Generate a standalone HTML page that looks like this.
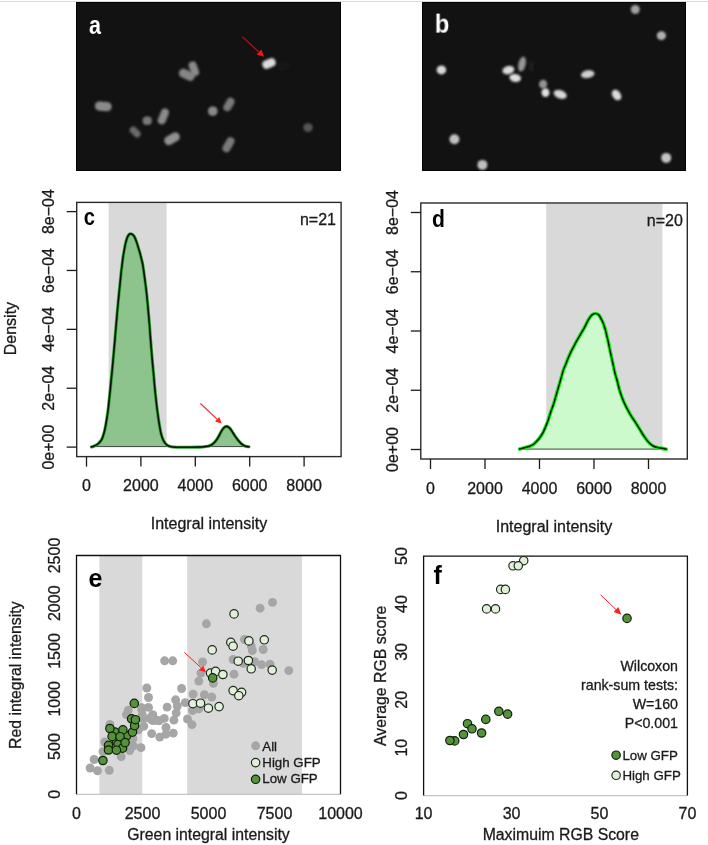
<!DOCTYPE html>
<html><head><meta charset="utf-8"><style>
html,body{margin:0;padding:0;background:#fff;width:708px;height:845px;overflow:hidden}
svg{display:block}
text{font-family:"Liberation Sans", sans-serif}
</style></head><body>
<svg width="708" height="845" viewBox="0 0 708 845" style="will-change:transform">
<defs><filter id="blur" x="-50%" y="-50%" width="200%" height="200%"><feGaussianBlur stdDeviation="0.9"/></filter></defs>
<rect x="0" y="1" width="708" height="1" fill="#dadada"/>
<rect x="76" y="2" width="265" height="169" fill="#121212"/>
<rect x="76.5" y="2.5" width="264" height="168" fill="none" stroke="#030303" stroke-width="1"/>
<rect x="94.90" y="101.70" width="16.80" height="9.20" rx="4.37" transform="rotate(5 103.3 106.3)" fill="#8a8a8a" filter="url(#blur)"/>
<rect x="142.60" y="116.40" width="9.20" height="8.60" rx="4.08" transform="rotate(0 147.2 120.7)" fill="#787878" filter="url(#blur)"/>
<rect x="155.10" y="112.40" width="16.40" height="8.00" rx="3.80" transform="rotate(-68 163.3 116.4)" fill="#8a8a8a" filter="url(#blur)"/>
<rect x="129.00" y="128.40" width="12.40" height="7.20" rx="3.42" transform="rotate(45 135.2 132.0)" fill="#6a6a6a" filter="url(#blur)"/>
<rect x="163.80" y="134.20" width="16.40" height="9.00" rx="4.27" transform="rotate(-30 172.0 138.7)" fill="#909090" filter="url(#blur)"/>
<rect x="208.00" y="106.50" width="9.60" height="9.20" rx="4.37" transform="rotate(0 212.8 111.1)" fill="#8a8a8a" filter="url(#blur)"/>
<rect x="221.70" y="100.40" width="14.40" height="8.00" rx="3.80" transform="rotate(-60 228.9 104.4)" fill="#7a7a7a" filter="url(#blur)"/>
<rect x="220.40" y="140.70" width="16.00" height="8.00" rx="3.80" transform="rotate(-60 228.4 144.7)" fill="#7a7a7a" filter="url(#blur)"/>
<rect x="178.60" y="70.30" width="16.40" height="9.00" rx="4.27" transform="rotate(25 186.8 74.8)" fill="#858585" filter="url(#blur)"/>
<rect x="186.30" y="64.80" width="15.00" height="8.00" rx="3.80" transform="rotate(70 193.8 68.8)" fill="#8a8a8a" filter="url(#blur)"/>
<rect x="303.50" y="123.30" width="9.00" height="8.60" rx="4.08" transform="rotate(0 308.0 127.6)" fill="#555555" filter="url(#blur)"/>
<rect x="278.00" y="61.40" width="12.00" height="9.00" rx="4.27" transform="rotate(-20 284.0 65.9)" fill="#191919" filter="url(#blur)"/>
<rect x="262.20" y="59.20" width="13.60" height="8.60" rx="4.08" transform="rotate(-23 269.0 63.5)" fill="#dcdcdc" filter="url(#blur)"/>
<text x="0" y="0" font-size="25" text-anchor="start" font-weight="bold" fill="#ffffff" transform="translate(89.0 33.8) scale(0.86 1)">a</text>
<line x1="242.4" y1="36.7" x2="258.6" y2="51.8" stroke="#b51010" stroke-width="1.2"/>
<polygon points="263.9,56.7 256.6,54.4 261.4,49.5" fill="#ff1010"/>
<rect x="422" y="2" width="264" height="169" fill="#121212"/>
<rect x="422.5" y="2.5" width="263" height="168" fill="none" stroke="#030303" stroke-width="1"/>
<ellipse cx="635.3" cy="9.5" rx="4.5" ry="4.5" transform="rotate(0 635.3 9.5)" fill="#a0a0a0" filter="url(#blur)"/>
<ellipse cx="661.4" cy="35.6" rx="4.6" ry="4.4" transform="rotate(0 661.4 35.6)" fill="#b0b0b0" filter="url(#blur)"/>
<ellipse cx="441.4" cy="69.9" rx="4.8" ry="4.5" transform="rotate(0 441.4 69.9)" fill="#d8d8d8" filter="url(#blur)"/>
<ellipse cx="508.4" cy="70.2" rx="6.0" ry="4.1" transform="rotate(-15 508.4 70.2)" fill="#dadada" filter="url(#blur)"/>
<ellipse cx="515.2" cy="77.9" rx="5.8" ry="4.0" transform="rotate(10 515.2 77.9)" fill="#e0e0e0" filter="url(#blur)"/>
<ellipse cx="522.0" cy="64.1" rx="7.6" ry="3.6" transform="rotate(-77 522.0 64.1)" fill="#959595" filter="url(#blur)"/>
<ellipse cx="543.1" cy="84.2" rx="4.1" ry="4.4" transform="rotate(0 543.1 84.2)" fill="#929292" filter="url(#blur)"/>
<ellipse cx="545.5" cy="92.6" rx="4.0" ry="4.3" transform="rotate(0 545.5 92.6)" fill="#e0e0e0" filter="url(#blur)"/>
<ellipse cx="560.2" cy="94.4" rx="6.8" ry="4.2" transform="rotate(20 560.2 94.4)" fill="#d8d8d8" filter="url(#blur)"/>
<ellipse cx="587.7" cy="74.2" rx="6.8" ry="3.9" transform="rotate(-10 587.7 74.2)" fill="#cfcfcf" filter="url(#blur)"/>
<ellipse cx="616.6" cy="95.0" rx="5.8" ry="4.1" transform="rotate(55 616.6 95.0)" fill="#dadada" filter="url(#blur)"/>
<ellipse cx="454.4" cy="139.2" rx="5.0" ry="5.0" transform="rotate(0 454.4 139.2)" fill="#c0c0c0" filter="url(#blur)"/>
<ellipse cx="482.4" cy="164.9" rx="5.0" ry="5.0" transform="rotate(0 482.4 164.9)" fill="#c0c0c0" filter="url(#blur)"/>
<ellipse cx="666.2" cy="157.9" rx="5.0" ry="5.0" transform="rotate(0 666.2 157.9)" fill="#c4c4c4" filter="url(#blur)"/>
<ellipse cx="531.7" cy="66.5" rx="3" ry="6" transform="rotate(0 531.7 66.5)" fill="#1a1a1a" filter="url(#blur)"/>
<text x="0" y="0" font-size="25" text-anchor="start" font-weight="bold" fill="#ffffff" transform="translate(434.8 32.6) scale(0.95 1)">b</text>
<rect x="108.6" y="203.20000000000002" width="58.0" height="243.4" fill="#d9d9d9"/>
<path d="M91.40,446.90 C91.77,446.80 92.52,446.78 93.60,446.30 C94.68,445.82 96.72,444.88 97.90,444.00 C99.08,443.12 99.97,441.97 100.70,441.00 C101.43,440.03 101.73,439.60 102.30,438.20 C102.87,436.80 103.58,434.47 104.10,432.60 C104.62,430.73 105.02,428.88 105.40,427.00 C105.78,425.12 106.08,423.20 106.40,421.30 C106.72,419.40 107.02,417.48 107.30,415.60 C107.58,413.72 107.83,412.17 108.10,410.00 C108.37,407.83 108.57,405.72 108.90,402.60 C109.23,399.48 109.72,395.07 110.10,391.30 C110.48,387.53 110.87,383.38 111.20,380.00 C111.53,376.62 111.82,373.90 112.10,371.00 C112.38,368.10 112.60,365.88 112.90,362.60 C113.20,359.32 113.57,355.07 113.90,351.30 C114.23,347.53 114.58,343.72 114.90,340.00 C115.22,336.28 115.48,332.73 115.80,329.00 C116.12,325.27 116.47,321.38 116.80,317.60 C117.13,313.82 117.45,310.07 117.80,306.30 C118.15,302.53 118.53,298.72 118.90,295.00 C119.27,291.28 119.65,287.50 120.00,284.00 C120.35,280.50 120.68,276.95 121.00,274.00 C121.32,271.05 121.60,268.82 121.90,266.30 C122.20,263.78 122.50,261.08 122.80,258.90 C123.10,256.72 123.38,255.08 123.70,253.20 C124.02,251.32 124.33,249.47 124.70,247.60 C125.07,245.73 125.45,243.73 125.90,242.00 C126.35,240.27 126.88,238.43 127.40,237.20 C127.92,235.97 128.47,235.17 129.00,234.60 C129.53,234.03 130.05,233.83 130.60,233.80 C131.15,233.77 131.70,233.98 132.30,234.40 C132.90,234.82 133.52,235.12 134.20,236.30 C134.88,237.48 135.72,239.62 136.40,241.50 C137.08,243.38 137.70,245.65 138.30,247.60 C138.90,249.55 139.48,251.32 140.00,253.20 C140.52,255.08 140.93,256.93 141.40,258.90 C141.87,260.87 142.27,261.88 142.80,265.00 C143.33,268.12 144.03,273.43 144.60,277.60 C145.17,281.77 145.73,286.05 146.20,290.00 C146.67,293.95 147.03,297.53 147.40,301.30 C147.77,305.07 148.07,308.82 148.40,312.60 C148.73,316.38 149.10,320.27 149.40,324.00 C149.70,327.73 149.93,331.50 150.20,335.00 C150.47,338.50 150.73,341.67 151.00,345.00 C151.27,348.33 151.53,351.83 151.80,355.00 C152.07,358.17 152.33,361.17 152.60,364.00 C152.87,366.83 153.08,368.50 153.40,372.00 C153.72,375.50 154.15,381.17 154.50,385.00 C154.85,388.83 155.15,391.67 155.50,395.00 C155.85,398.33 156.27,402.17 156.60,405.00 C156.93,407.83 157.13,409.28 157.50,412.00 C157.87,414.72 158.25,417.87 158.80,421.30 C159.35,424.73 160.18,429.78 160.80,432.60 C161.42,435.42 162.00,436.77 162.50,438.20 C163.00,439.63 163.23,440.23 163.80,441.20 C164.37,442.17 165.08,443.20 165.90,444.00 C166.72,444.80 167.48,445.50 168.70,446.00 C169.92,446.50 170.48,446.80 173.20,447.00 C175.92,447.20 180.53,447.18 185.00,447.20 C189.47,447.22 196.67,447.20 200.00,447.10 C203.33,447.00 203.50,446.80 205.00,446.60 C206.50,446.40 207.78,446.28 209.00,445.90 C210.22,445.52 211.18,445.12 212.30,444.30 C213.42,443.48 214.65,442.28 215.70,441.00 C216.75,439.72 217.73,438.07 218.60,436.60 C219.47,435.13 220.10,433.60 220.90,432.20 C221.70,430.80 222.47,429.17 223.40,428.20 C224.33,427.23 225.48,426.43 226.50,426.40 C227.52,426.37 228.57,427.15 229.50,428.00 C230.43,428.85 231.20,430.18 232.10,431.50 C233.00,432.82 233.93,434.48 234.90,435.90 C235.87,437.32 236.85,438.72 237.90,440.00 C238.95,441.28 240.10,442.62 241.20,443.60 C242.30,444.58 243.22,445.37 244.50,445.90 C245.78,446.43 248.17,446.65 248.90,446.80 L248.90,446.6 L91.40,446.6 Z" fill="#8dc48d" stroke="none"/>
<line x1="91.40" y1="446.6" x2="248.90" y2="446.6" stroke="#303030" stroke-width="0.9"/>
<path d="M91.40,446.90 C91.77,446.80 92.52,446.78 93.60,446.30 C94.68,445.82 96.72,444.88 97.90,444.00 C99.08,443.12 99.97,441.97 100.70,441.00 C101.43,440.03 101.73,439.60 102.30,438.20 C102.87,436.80 103.58,434.47 104.10,432.60 C104.62,430.73 105.02,428.88 105.40,427.00 C105.78,425.12 106.08,423.20 106.40,421.30 C106.72,419.40 107.02,417.48 107.30,415.60 C107.58,413.72 107.83,412.17 108.10,410.00 C108.37,407.83 108.57,405.72 108.90,402.60 C109.23,399.48 109.72,395.07 110.10,391.30 C110.48,387.53 110.87,383.38 111.20,380.00 C111.53,376.62 111.82,373.90 112.10,371.00 C112.38,368.10 112.60,365.88 112.90,362.60 C113.20,359.32 113.57,355.07 113.90,351.30 C114.23,347.53 114.58,343.72 114.90,340.00 C115.22,336.28 115.48,332.73 115.80,329.00 C116.12,325.27 116.47,321.38 116.80,317.60 C117.13,313.82 117.45,310.07 117.80,306.30 C118.15,302.53 118.53,298.72 118.90,295.00 C119.27,291.28 119.65,287.50 120.00,284.00 C120.35,280.50 120.68,276.95 121.00,274.00 C121.32,271.05 121.60,268.82 121.90,266.30 C122.20,263.78 122.50,261.08 122.80,258.90 C123.10,256.72 123.38,255.08 123.70,253.20 C124.02,251.32 124.33,249.47 124.70,247.60 C125.07,245.73 125.45,243.73 125.90,242.00 C126.35,240.27 126.88,238.43 127.40,237.20 C127.92,235.97 128.47,235.17 129.00,234.60 C129.53,234.03 130.05,233.83 130.60,233.80 C131.15,233.77 131.70,233.98 132.30,234.40 C132.90,234.82 133.52,235.12 134.20,236.30 C134.88,237.48 135.72,239.62 136.40,241.50 C137.08,243.38 137.70,245.65 138.30,247.60 C138.90,249.55 139.48,251.32 140.00,253.20 C140.52,255.08 140.93,256.93 141.40,258.90 C141.87,260.87 142.27,261.88 142.80,265.00 C143.33,268.12 144.03,273.43 144.60,277.60 C145.17,281.77 145.73,286.05 146.20,290.00 C146.67,293.95 147.03,297.53 147.40,301.30 C147.77,305.07 148.07,308.82 148.40,312.60 C148.73,316.38 149.10,320.27 149.40,324.00 C149.70,327.73 149.93,331.50 150.20,335.00 C150.47,338.50 150.73,341.67 151.00,345.00 C151.27,348.33 151.53,351.83 151.80,355.00 C152.07,358.17 152.33,361.17 152.60,364.00 C152.87,366.83 153.08,368.50 153.40,372.00 C153.72,375.50 154.15,381.17 154.50,385.00 C154.85,388.83 155.15,391.67 155.50,395.00 C155.85,398.33 156.27,402.17 156.60,405.00 C156.93,407.83 157.13,409.28 157.50,412.00 C157.87,414.72 158.25,417.87 158.80,421.30 C159.35,424.73 160.18,429.78 160.80,432.60 C161.42,435.42 162.00,436.77 162.50,438.20 C163.00,439.63 163.23,440.23 163.80,441.20 C164.37,442.17 165.08,443.20 165.90,444.00 C166.72,444.80 167.48,445.50 168.70,446.00 C169.92,446.50 170.48,446.80 173.20,447.00 C175.92,447.20 180.53,447.18 185.00,447.20 C189.47,447.22 196.67,447.20 200.00,447.10 C203.33,447.00 203.50,446.80 205.00,446.60 C206.50,446.40 207.78,446.28 209.00,445.90 C210.22,445.52 211.18,445.12 212.30,444.30 C213.42,443.48 214.65,442.28 215.70,441.00 C216.75,439.72 217.73,438.07 218.60,436.60 C219.47,435.13 220.10,433.60 220.90,432.20 C221.70,430.80 222.47,429.17 223.40,428.20 C224.33,427.23 225.48,426.43 226.50,426.40 C227.52,426.37 228.57,427.15 229.50,428.00 C230.43,428.85 231.20,430.18 232.10,431.50 C233.00,432.82 233.93,434.48 234.90,435.90 C235.87,437.32 236.85,438.72 237.90,440.00 C238.95,441.28 240.10,442.62 241.20,443.60 C242.30,444.58 243.22,445.37 244.50,445.90 C245.78,446.43 248.17,446.65 248.90,446.80" fill="none" stroke="#2e9e2e" stroke-width="3.1" stroke-linejoin="round" stroke-linecap="round"/>
<path d="M91.40,446.90 C91.77,446.80 92.52,446.78 93.60,446.30 C94.68,445.82 96.72,444.88 97.90,444.00 C99.08,443.12 99.97,441.97 100.70,441.00 C101.43,440.03 101.73,439.60 102.30,438.20 C102.87,436.80 103.58,434.47 104.10,432.60 C104.62,430.73 105.02,428.88 105.40,427.00 C105.78,425.12 106.08,423.20 106.40,421.30 C106.72,419.40 107.02,417.48 107.30,415.60 C107.58,413.72 107.83,412.17 108.10,410.00 C108.37,407.83 108.57,405.72 108.90,402.60 C109.23,399.48 109.72,395.07 110.10,391.30 C110.48,387.53 110.87,383.38 111.20,380.00 C111.53,376.62 111.82,373.90 112.10,371.00 C112.38,368.10 112.60,365.88 112.90,362.60 C113.20,359.32 113.57,355.07 113.90,351.30 C114.23,347.53 114.58,343.72 114.90,340.00 C115.22,336.28 115.48,332.73 115.80,329.00 C116.12,325.27 116.47,321.38 116.80,317.60 C117.13,313.82 117.45,310.07 117.80,306.30 C118.15,302.53 118.53,298.72 118.90,295.00 C119.27,291.28 119.65,287.50 120.00,284.00 C120.35,280.50 120.68,276.95 121.00,274.00 C121.32,271.05 121.60,268.82 121.90,266.30 C122.20,263.78 122.50,261.08 122.80,258.90 C123.10,256.72 123.38,255.08 123.70,253.20 C124.02,251.32 124.33,249.47 124.70,247.60 C125.07,245.73 125.45,243.73 125.90,242.00 C126.35,240.27 126.88,238.43 127.40,237.20 C127.92,235.97 128.47,235.17 129.00,234.60 C129.53,234.03 130.05,233.83 130.60,233.80 C131.15,233.77 131.70,233.98 132.30,234.40 C132.90,234.82 133.52,235.12 134.20,236.30 C134.88,237.48 135.72,239.62 136.40,241.50 C137.08,243.38 137.70,245.65 138.30,247.60 C138.90,249.55 139.48,251.32 140.00,253.20 C140.52,255.08 140.93,256.93 141.40,258.90 C141.87,260.87 142.27,261.88 142.80,265.00 C143.33,268.12 144.03,273.43 144.60,277.60 C145.17,281.77 145.73,286.05 146.20,290.00 C146.67,293.95 147.03,297.53 147.40,301.30 C147.77,305.07 148.07,308.82 148.40,312.60 C148.73,316.38 149.10,320.27 149.40,324.00 C149.70,327.73 149.93,331.50 150.20,335.00 C150.47,338.50 150.73,341.67 151.00,345.00 C151.27,348.33 151.53,351.83 151.80,355.00 C152.07,358.17 152.33,361.17 152.60,364.00 C152.87,366.83 153.08,368.50 153.40,372.00 C153.72,375.50 154.15,381.17 154.50,385.00 C154.85,388.83 155.15,391.67 155.50,395.00 C155.85,398.33 156.27,402.17 156.60,405.00 C156.93,407.83 157.13,409.28 157.50,412.00 C157.87,414.72 158.25,417.87 158.80,421.30 C159.35,424.73 160.18,429.78 160.80,432.60 C161.42,435.42 162.00,436.77 162.50,438.20 C163.00,439.63 163.23,440.23 163.80,441.20 C164.37,442.17 165.08,443.20 165.90,444.00 C166.72,444.80 167.48,445.50 168.70,446.00 C169.92,446.50 170.48,446.80 173.20,447.00 C175.92,447.20 180.53,447.18 185.00,447.20 C189.47,447.22 196.67,447.20 200.00,447.10 C203.33,447.00 203.50,446.80 205.00,446.60 C206.50,446.40 207.78,446.28 209.00,445.90 C210.22,445.52 211.18,445.12 212.30,444.30 C213.42,443.48 214.65,442.28 215.70,441.00 C216.75,439.72 217.73,438.07 218.60,436.60 C219.47,435.13 220.10,433.60 220.90,432.20 C221.70,430.80 222.47,429.17 223.40,428.20 C224.33,427.23 225.48,426.43 226.50,426.40 C227.52,426.37 228.57,427.15 229.50,428.00 C230.43,428.85 231.20,430.18 232.10,431.50 C233.00,432.82 233.93,434.48 234.90,435.90 C235.87,437.32 236.85,438.72 237.90,440.00 C238.95,441.28 240.10,442.62 241.20,443.60 C242.30,444.58 243.22,445.37 244.50,445.90 C245.78,446.43 248.17,446.65 248.90,446.80" fill="none" stroke="#021202" stroke-width="1.55" stroke-linejoin="round" stroke-linecap="round"/>
<rect x="76.7" y="202.4" width="264.40000000000003" height="254.20000000000002" fill="none" stroke="#2a2a2a" stroke-width="1.4"/>
<line x1="66.7" y1="211.6" x2="76.7" y2="211.6" stroke="#1a1a1a" stroke-width="1.3"/>
<text x="54.2" y="211.6" font-size="16" text-anchor="middle" font-weight="normal" fill="#1a1a1a" transform="rotate(-90 54.2 211.6)" stroke="#1a1a1a" stroke-width="0.3">8e−04</text>
<line x1="66.7" y1="270.475" x2="76.7" y2="270.475" stroke="#1a1a1a" stroke-width="1.3"/>
<text x="54.2" y="270.475" font-size="16" text-anchor="middle" font-weight="normal" fill="#1a1a1a" transform="rotate(-90 54.2 270.475)" stroke="#1a1a1a" stroke-width="0.3">6e−04</text>
<line x1="66.7" y1="329.35" x2="76.7" y2="329.35" stroke="#1a1a1a" stroke-width="1.3"/>
<text x="54.2" y="329.35" font-size="16" text-anchor="middle" font-weight="normal" fill="#1a1a1a" transform="rotate(-90 54.2 329.35)" stroke="#1a1a1a" stroke-width="0.3">4e−04</text>
<line x1="66.7" y1="388.225" x2="76.7" y2="388.225" stroke="#1a1a1a" stroke-width="1.3"/>
<text x="54.2" y="388.225" font-size="16" text-anchor="middle" font-weight="normal" fill="#1a1a1a" transform="rotate(-90 54.2 388.225)" stroke="#1a1a1a" stroke-width="0.3">2e−04</text>
<line x1="66.7" y1="447.1" x2="76.7" y2="447.1" stroke="#1a1a1a" stroke-width="1.3"/>
<text x="54.2" y="447.1" font-size="16" text-anchor="middle" font-weight="normal" fill="#1a1a1a" transform="rotate(-90 54.2 447.1)" stroke="#1a1a1a" stroke-width="0.3">0e+00</text>
<line x1="86.5" y1="456.6" x2="86.5" y2="466.6" stroke="#1a1a1a" stroke-width="1.3"/>
<text x="86.5" y="491.2" font-size="16" text-anchor="middle" font-weight="normal" fill="#1a1a1a" stroke="#1a1a1a" stroke-width="0.3">0</text>
<line x1="140.9" y1="456.6" x2="140.9" y2="466.6" stroke="#1a1a1a" stroke-width="1.3"/>
<text x="140.9" y="491.2" font-size="16" text-anchor="middle" font-weight="normal" fill="#1a1a1a" stroke="#1a1a1a" stroke-width="0.3">2000</text>
<line x1="195.3" y1="456.6" x2="195.3" y2="466.6" stroke="#1a1a1a" stroke-width="1.3"/>
<text x="195.3" y="491.2" font-size="16" text-anchor="middle" font-weight="normal" fill="#1a1a1a" stroke="#1a1a1a" stroke-width="0.3">4000</text>
<line x1="249.7" y1="456.6" x2="249.7" y2="466.6" stroke="#1a1a1a" stroke-width="1.3"/>
<text x="249.7" y="491.2" font-size="16" text-anchor="middle" font-weight="normal" fill="#1a1a1a" stroke="#1a1a1a" stroke-width="0.3">6000</text>
<line x1="304.1" y1="456.6" x2="304.1" y2="466.6" stroke="#1a1a1a" stroke-width="1.3"/>
<text x="304.1" y="491.2" font-size="16" text-anchor="middle" font-weight="normal" fill="#1a1a1a" stroke="#1a1a1a" stroke-width="0.3">8000</text>
<text x="209.0" y="529.0" font-size="16" text-anchor="middle" font-weight="normal" fill="#1a1a1a" stroke="#1a1a1a" stroke-width="0.3">Integral intensity</text>
<text x="0" y="0" font-size="24" text-anchor="start" font-weight="bold" fill="#000" transform="translate(83.8 225.2) scale(0.84 1)">c</text>
<text x="336.0" y="225.4" font-size="16" text-anchor="end" font-weight="normal" fill="#1a1a1a" stroke="#1a1a1a" stroke-width="0.3">n=21</text>
<text x="15.6" y="328.6" font-size="16" text-anchor="middle" font-weight="normal" fill="#1a1a1a" transform="rotate(-90 15.6 328.6)" stroke="#1a1a1a" stroke-width="0.3">Density</text>
<line x1="200.4" y1="403.5" x2="217.54" y2="419.60" stroke="#ff2020" stroke-width="1.1"/>
<polygon points="221.7,423.5 215.06,421.52 219.30,417.00" fill="#ff2020"/>
<rect x="546.2" y="203.8" width="116.19999999999993" height="245.3" fill="#d9d9d9"/>
<path d="M519.60,449.00 C520.43,448.78 522.92,448.15 524.60,447.70 C526.28,447.25 528.15,446.92 529.70,446.30 C531.25,445.68 532.68,444.88 533.90,444.00 C535.12,443.12 536.08,441.97 537.00,441.00 C537.92,440.03 538.40,439.60 539.40,438.20 C540.40,436.80 541.98,434.47 543.00,432.60 C544.02,430.73 544.70,428.88 545.50,427.00 C546.30,425.12 547.12,423.20 547.80,421.30 C548.48,419.40 549.00,417.48 549.60,415.60 C550.20,413.72 550.73,411.93 551.40,410.00 C552.07,408.07 552.68,406.90 553.60,404.00 C554.52,401.10 555.80,396.38 556.90,392.60 C558.00,388.82 559.12,385.07 560.20,381.30 C561.28,377.53 562.45,372.88 563.40,370.00 C564.35,367.12 565.12,365.97 565.90,364.00 C566.68,362.03 567.32,360.10 568.10,358.20 C568.88,356.30 569.73,354.40 570.60,352.60 C571.47,350.80 572.42,349.12 573.30,347.40 C574.18,345.68 575.02,343.93 575.90,342.30 C576.78,340.67 577.72,339.12 578.60,337.60 C579.48,336.08 580.35,334.65 581.20,333.20 C582.05,331.75 582.85,330.47 583.70,328.90 C584.55,327.33 585.40,325.52 586.30,323.80 C587.20,322.08 588.15,320.08 589.10,318.60 C590.05,317.12 590.97,315.75 592.00,314.90 C593.03,314.05 594.18,313.50 595.30,313.50 C596.42,313.50 597.65,313.87 598.70,314.90 C599.75,315.93 600.75,318.05 601.60,319.70 C602.45,321.35 603.13,322.98 603.80,324.80 C604.47,326.62 605.07,328.63 605.60,330.60 C606.13,332.57 606.55,334.70 607.00,336.60 C607.45,338.50 607.77,339.55 608.30,342.00 C608.83,344.45 609.47,347.87 610.20,351.30 C610.93,354.73 611.87,358.82 612.70,362.60 C613.53,366.38 614.48,371.10 615.20,374.00 C615.92,376.90 616.22,377.12 617.00,380.00 C617.78,382.88 618.72,387.53 619.90,391.30 C621.08,395.07 622.42,398.82 624.10,402.60 C625.78,406.38 628.30,411.00 630.00,414.00 C631.70,417.00 632.98,418.55 634.30,420.60 C635.62,422.65 636.73,424.40 637.90,426.30 C639.07,428.20 640.12,430.12 641.30,432.00 C642.48,433.88 643.67,435.77 645.00,437.60 C646.33,439.43 647.93,441.60 649.30,443.00 C650.67,444.40 651.80,445.23 653.20,446.00 C654.60,446.77 655.53,447.08 657.70,447.60 C659.87,448.12 664.78,448.85 666.20,449.10 L666.20,449.1 L519.60,449.1 Z" fill="#ccfacc" stroke="none"/>
<line x1="519.60" y1="449.1" x2="666.20" y2="449.1" stroke="#303030" stroke-width="0.9"/>
<path d="M519.60,449.00 C520.43,448.78 522.92,448.15 524.60,447.70 C526.28,447.25 528.15,446.92 529.70,446.30 C531.25,445.68 532.68,444.88 533.90,444.00 C535.12,443.12 536.08,441.97 537.00,441.00 C537.92,440.03 538.40,439.60 539.40,438.20 C540.40,436.80 541.98,434.47 543.00,432.60 C544.02,430.73 544.70,428.88 545.50,427.00 C546.30,425.12 547.12,423.20 547.80,421.30 C548.48,419.40 549.00,417.48 549.60,415.60 C550.20,413.72 550.73,411.93 551.40,410.00 C552.07,408.07 552.68,406.90 553.60,404.00 C554.52,401.10 555.80,396.38 556.90,392.60 C558.00,388.82 559.12,385.07 560.20,381.30 C561.28,377.53 562.45,372.88 563.40,370.00 C564.35,367.12 565.12,365.97 565.90,364.00 C566.68,362.03 567.32,360.10 568.10,358.20 C568.88,356.30 569.73,354.40 570.60,352.60 C571.47,350.80 572.42,349.12 573.30,347.40 C574.18,345.68 575.02,343.93 575.90,342.30 C576.78,340.67 577.72,339.12 578.60,337.60 C579.48,336.08 580.35,334.65 581.20,333.20 C582.05,331.75 582.85,330.47 583.70,328.90 C584.55,327.33 585.40,325.52 586.30,323.80 C587.20,322.08 588.15,320.08 589.10,318.60 C590.05,317.12 590.97,315.75 592.00,314.90 C593.03,314.05 594.18,313.50 595.30,313.50 C596.42,313.50 597.65,313.87 598.70,314.90 C599.75,315.93 600.75,318.05 601.60,319.70 C602.45,321.35 603.13,322.98 603.80,324.80 C604.47,326.62 605.07,328.63 605.60,330.60 C606.13,332.57 606.55,334.70 607.00,336.60 C607.45,338.50 607.77,339.55 608.30,342.00 C608.83,344.45 609.47,347.87 610.20,351.30 C610.93,354.73 611.87,358.82 612.70,362.60 C613.53,366.38 614.48,371.10 615.20,374.00 C615.92,376.90 616.22,377.12 617.00,380.00 C617.78,382.88 618.72,387.53 619.90,391.30 C621.08,395.07 622.42,398.82 624.10,402.60 C625.78,406.38 628.30,411.00 630.00,414.00 C631.70,417.00 632.98,418.55 634.30,420.60 C635.62,422.65 636.73,424.40 637.90,426.30 C639.07,428.20 640.12,430.12 641.30,432.00 C642.48,433.88 643.67,435.77 645.00,437.60 C646.33,439.43 647.93,441.60 649.30,443.00 C650.67,444.40 651.80,445.23 653.20,446.00 C654.60,446.77 655.53,447.08 657.70,447.60 C659.87,448.12 664.78,448.85 666.20,449.10" fill="none" stroke="#18ee18" stroke-width="3.7" stroke-linejoin="round" stroke-linecap="round"/>
<path d="M519.60,449.00 C520.43,448.78 522.92,448.15 524.60,447.70 C526.28,447.25 528.15,446.92 529.70,446.30 C531.25,445.68 532.68,444.88 533.90,444.00 C535.12,443.12 536.08,441.97 537.00,441.00 C537.92,440.03 538.40,439.60 539.40,438.20 C540.40,436.80 541.98,434.47 543.00,432.60 C544.02,430.73 544.70,428.88 545.50,427.00 C546.30,425.12 547.12,423.20 547.80,421.30 C548.48,419.40 549.00,417.48 549.60,415.60 C550.20,413.72 550.73,411.93 551.40,410.00 C552.07,408.07 552.68,406.90 553.60,404.00 C554.52,401.10 555.80,396.38 556.90,392.60 C558.00,388.82 559.12,385.07 560.20,381.30 C561.28,377.53 562.45,372.88 563.40,370.00 C564.35,367.12 565.12,365.97 565.90,364.00 C566.68,362.03 567.32,360.10 568.10,358.20 C568.88,356.30 569.73,354.40 570.60,352.60 C571.47,350.80 572.42,349.12 573.30,347.40 C574.18,345.68 575.02,343.93 575.90,342.30 C576.78,340.67 577.72,339.12 578.60,337.60 C579.48,336.08 580.35,334.65 581.20,333.20 C582.05,331.75 582.85,330.47 583.70,328.90 C584.55,327.33 585.40,325.52 586.30,323.80 C587.20,322.08 588.15,320.08 589.10,318.60 C590.05,317.12 590.97,315.75 592.00,314.90 C593.03,314.05 594.18,313.50 595.30,313.50 C596.42,313.50 597.65,313.87 598.70,314.90 C599.75,315.93 600.75,318.05 601.60,319.70 C602.45,321.35 603.13,322.98 603.80,324.80 C604.47,326.62 605.07,328.63 605.60,330.60 C606.13,332.57 606.55,334.70 607.00,336.60 C607.45,338.50 607.77,339.55 608.30,342.00 C608.83,344.45 609.47,347.87 610.20,351.30 C610.93,354.73 611.87,358.82 612.70,362.60 C613.53,366.38 614.48,371.10 615.20,374.00 C615.92,376.90 616.22,377.12 617.00,380.00 C617.78,382.88 618.72,387.53 619.90,391.30 C621.08,395.07 622.42,398.82 624.10,402.60 C625.78,406.38 628.30,411.00 630.00,414.00 C631.70,417.00 632.98,418.55 634.30,420.60 C635.62,422.65 636.73,424.40 637.90,426.30 C639.07,428.20 640.12,430.12 641.30,432.00 C642.48,433.88 643.67,435.77 645.00,437.60 C646.33,439.43 647.93,441.60 649.30,443.00 C650.67,444.40 651.80,445.23 653.20,446.00 C654.60,446.77 655.53,447.08 657.70,447.60 C659.87,448.12 664.78,448.85 666.20,449.10" fill="none" stroke="#002200" stroke-width="1.5" stroke-linejoin="round" stroke-linecap="round"/>
<rect x="420.8" y="203.0" width="266.49999999999994" height="256.0" fill="none" stroke="#2a2a2a" stroke-width="1.4"/>
<line x1="410.8" y1="212.5" x2="420.8" y2="212.5" stroke="#1a1a1a" stroke-width="1.3"/>
<text x="398.2" y="212.5" font-size="16" text-anchor="middle" font-weight="normal" fill="#1a1a1a" transform="rotate(-90 398.2 212.5)" stroke="#1a1a1a" stroke-width="0.3">8e−04</text>
<line x1="410.8" y1="271.75" x2="420.8" y2="271.75" stroke="#1a1a1a" stroke-width="1.3"/>
<text x="398.2" y="271.75" font-size="16" text-anchor="middle" font-weight="normal" fill="#1a1a1a" transform="rotate(-90 398.2 271.75)" stroke="#1a1a1a" stroke-width="0.3">6e−04</text>
<line x1="410.8" y1="331.0" x2="420.8" y2="331.0" stroke="#1a1a1a" stroke-width="1.3"/>
<text x="398.2" y="331.0" font-size="16" text-anchor="middle" font-weight="normal" fill="#1a1a1a" transform="rotate(-90 398.2 331.0)" stroke="#1a1a1a" stroke-width="0.3">4e−04</text>
<line x1="410.8" y1="390.25" x2="420.8" y2="390.25" stroke="#1a1a1a" stroke-width="1.3"/>
<text x="398.2" y="390.25" font-size="16" text-anchor="middle" font-weight="normal" fill="#1a1a1a" transform="rotate(-90 398.2 390.25)" stroke="#1a1a1a" stroke-width="0.3">2e−04</text>
<line x1="410.8" y1="449.5" x2="420.8" y2="449.5" stroke="#1a1a1a" stroke-width="1.3"/>
<text x="398.2" y="449.5" font-size="16" text-anchor="middle" font-weight="normal" fill="#1a1a1a" transform="rotate(-90 398.2 449.5)" stroke="#1a1a1a" stroke-width="0.3">0e+00</text>
<line x1="430.5" y1="459.0" x2="430.5" y2="469.0" stroke="#1a1a1a" stroke-width="1.3"/>
<text x="430.5" y="493.7" font-size="16" text-anchor="middle" font-weight="normal" fill="#1a1a1a" stroke="#1a1a1a" stroke-width="0.3">0</text>
<line x1="485.0" y1="459.0" x2="485.0" y2="469.0" stroke="#1a1a1a" stroke-width="1.3"/>
<text x="485.0" y="493.7" font-size="16" text-anchor="middle" font-weight="normal" fill="#1a1a1a" stroke="#1a1a1a" stroke-width="0.3">2000</text>
<line x1="539.5" y1="459.0" x2="539.5" y2="469.0" stroke="#1a1a1a" stroke-width="1.3"/>
<text x="539.5" y="493.7" font-size="16" text-anchor="middle" font-weight="normal" fill="#1a1a1a" stroke="#1a1a1a" stroke-width="0.3">4000</text>
<line x1="594.0" y1="459.0" x2="594.0" y2="469.0" stroke="#1a1a1a" stroke-width="1.3"/>
<text x="594.0" y="493.7" font-size="16" text-anchor="middle" font-weight="normal" fill="#1a1a1a" stroke="#1a1a1a" stroke-width="0.3">6000</text>
<line x1="648.5" y1="459.0" x2="648.5" y2="469.0" stroke="#1a1a1a" stroke-width="1.3"/>
<text x="648.5" y="493.7" font-size="16" text-anchor="middle" font-weight="normal" fill="#1a1a1a" stroke="#1a1a1a" stroke-width="0.3">8000</text>
<text x="554.0" y="532.0" font-size="16" text-anchor="middle" font-weight="normal" fill="#1a1a1a" stroke="#1a1a1a" stroke-width="0.3">Integral intensity</text>
<text x="0" y="0" font-size="24" text-anchor="start" font-weight="bold" fill="#000" transform="translate(432.0 226.8) scale(0.88 1)">d</text>
<text x="682.8" y="226.3" font-size="16" text-anchor="end" font-weight="normal" fill="#1a1a1a" stroke="#1a1a1a" stroke-width="0.3">n=20</text>
<rect x="99.4" y="555.5" width="42.900000000000006" height="238.79999999999995" fill="#d9d9d9"/>
<rect x="187.2" y="555.5" width="114.69999999999999" height="238.79999999999995" fill="#d9d9d9"/>
<line x1="76.5" y1="794.3" x2="340.5" y2="794.3" stroke="#c4c4c4" stroke-width="1.2"/>
<polyline points="76.5,794.3 76.5,555.5 340.5,555.5 340.5,794.3" fill="none" stroke="#111" stroke-width="1.3"/>
<circle cx="94.1" cy="759.5" r="4.45" fill="#a6a6a6"/>
<circle cx="90.1" cy="768" r="4.45" fill="#a6a6a6"/>
<circle cx="97.5" cy="770.8" r="4.45" fill="#a6a6a6"/>
<circle cx="109.3" cy="770.3" r="4.45" fill="#a6a6a6"/>
<circle cx="121.2" cy="756.7" r="4.45" fill="#a6a6a6"/>
<circle cx="129.7" cy="750.5" r="4.45" fill="#a6a6a6"/>
<circle cx="141" cy="747.7" r="4.45" fill="#a6a6a6"/>
<circle cx="151.7" cy="733.6" r="4.45" fill="#a6a6a6"/>
<circle cx="104.8" cy="742" r="4.45" fill="#a6a6a6"/>
<circle cx="109.9" cy="724.5" r="4.45" fill="#a6a6a6"/>
<circle cx="133" cy="738.6" r="4.45" fill="#a6a6a6"/>
<circle cx="143.8" cy="726.2" r="4.45" fill="#a6a6a6"/>
<circle cx="103" cy="751.6" r="4.45" fill="#a6a6a6"/>
<circle cx="148.5" cy="697.5" r="4.45" fill="#a6a6a6"/>
<circle cx="146.8" cy="688" r="4.45" fill="#a6a6a6"/>
<circle cx="128.2" cy="710.3" r="4.45" fill="#a6a6a6"/>
<circle cx="126.5" cy="714.6" r="4.45" fill="#a6a6a6"/>
<circle cx="141.8" cy="709.5" r="4.45" fill="#a6a6a6"/>
<circle cx="148.5" cy="707.4" r="4.45" fill="#a6a6a6"/>
<circle cx="152.8" cy="714.6" r="4.45" fill="#a6a6a6"/>
<circle cx="143.5" cy="718.8" r="4.45" fill="#a6a6a6"/>
<circle cx="152.8" cy="720.5" r="4.45" fill="#a6a6a6"/>
<circle cx="138.4" cy="729.8" r="4.45" fill="#a6a6a6"/>
<circle cx="131.6" cy="740.8" r="4.45" fill="#a6a6a6"/>
<circle cx="133.3" cy="745.9" r="4.45" fill="#a6a6a6"/>
<circle cx="141.7" cy="707.7" r="4.45" fill="#a6a6a6"/>
<circle cx="142.3" cy="715" r="4.45" fill="#a6a6a6"/>
<circle cx="151.3" cy="719.5" r="4.45" fill="#a6a6a6"/>
<circle cx="159.2" cy="720.7" r="4.45" fill="#a6a6a6"/>
<circle cx="164.3" cy="718.4" r="4.45" fill="#a6a6a6"/>
<circle cx="167.1" cy="707.1" r="4.45" fill="#a6a6a6"/>
<circle cx="175.6" cy="699.8" r="4.45" fill="#a6a6a6"/>
<circle cx="181.6" cy="688.5" r="4.45" fill="#a6a6a6"/>
<circle cx="177.3" cy="706" r="4.45" fill="#a6a6a6"/>
<circle cx="176.2" cy="712.8" r="4.45" fill="#a6a6a6"/>
<circle cx="173.9" cy="720.1" r="4.45" fill="#a6a6a6"/>
<circle cx="166" cy="727.5" r="4.45" fill="#a6a6a6"/>
<circle cx="159.8" cy="737.1" r="4.45" fill="#a6a6a6"/>
<circle cx="166" cy="734.2" r="4.45" fill="#a6a6a6"/>
<circle cx="173.3" cy="733.1" r="4.45" fill="#a6a6a6"/>
<circle cx="185.2" cy="702.6" r="4.45" fill="#a6a6a6"/>
<circle cx="187.5" cy="719" r="4.45" fill="#a6a6a6"/>
<circle cx="192" cy="724.6" r="4.45" fill="#a6a6a6"/>
<circle cx="192.5" cy="710.5" r="4.45" fill="#a6a6a6"/>
<circle cx="193.1" cy="694.1" r="4.45" fill="#a6a6a6"/>
<circle cx="198.8" cy="681.1" r="4.45" fill="#a6a6a6"/>
<circle cx="204.4" cy="694.7" r="4.45" fill="#a6a6a6"/>
<circle cx="211.8" cy="697" r="4.45" fill="#a6a6a6"/>
<circle cx="213.4" cy="683.4" r="4.45" fill="#a6a6a6"/>
<circle cx="198.8" cy="708.8" r="4.45" fill="#a6a6a6"/>
<circle cx="206.4" cy="623.8" r="4.45" fill="#a6a6a6"/>
<circle cx="202.6" cy="662" r="4.45" fill="#a6a6a6"/>
<circle cx="200.9" cy="673.1" r="4.45" fill="#a6a6a6"/>
<circle cx="234" cy="674.2" r="4.45" fill="#a6a6a6"/>
<circle cx="233.1" cy="659.5" r="4.45" fill="#a6a6a6"/>
<circle cx="252.3" cy="650.5" r="4.45" fill="#a6a6a6"/>
<circle cx="251.2" cy="646" r="4.45" fill="#a6a6a6"/>
<circle cx="260.1" cy="608.2" r="4.45" fill="#a6a6a6"/>
<circle cx="272.5" cy="602.4" r="4.45" fill="#a6a6a6"/>
<circle cx="263.2" cy="649.5" r="4.45" fill="#a6a6a6"/>
<circle cx="261.5" cy="664.6" r="4.45" fill="#a6a6a6"/>
<circle cx="269.9" cy="664.2" r="4.45" fill="#a6a6a6"/>
<circle cx="288.8" cy="670.6" r="4.45" fill="#a6a6a6"/>
<circle cx="244.5" cy="639.5" r="4.45" fill="#a6a6a6"/>
<circle cx="254.7" cy="661.6" r="4.45" fill="#a6a6a6"/>
<circle cx="243.4" cy="663.3" r="4.45" fill="#a6a6a6"/>
<circle cx="164.6" cy="660.8" r="4.45" fill="#a6a6a6"/>
<circle cx="172.7" cy="660.8" r="4.45" fill="#a6a6a6"/>
<circle cx="150.2" cy="718" r="4.45" fill="#a6a6a6"/>
<circle cx="157" cy="720.5" r="4.45" fill="#a6a6a6"/>
<circle cx="192.9" cy="703.7" r="4.2" fill="#e2f0d9" stroke="#1e2a1e" stroke-width="1.2"/>
<circle cx="200.5" cy="703.2" r="4.2" fill="#e2f0d9" stroke="#1e2a1e" stroke-width="1.2"/>
<circle cx="208.4" cy="708.2" r="4.2" fill="#e2f0d9" stroke="#1e2a1e" stroke-width="1.2"/>
<circle cx="219.1" cy="706.6" r="4.2" fill="#e2f0d9" stroke="#1e2a1e" stroke-width="1.2"/>
<circle cx="212.2" cy="649.9" r="4.2" fill="#e2f0d9" stroke="#1e2a1e" stroke-width="1.2"/>
<circle cx="230.8" cy="642.4" r="4.2" fill="#e2f0d9" stroke="#1e2a1e" stroke-width="1.2"/>
<circle cx="233.1" cy="646.2" r="4.2" fill="#e2f0d9" stroke="#1e2a1e" stroke-width="1.2"/>
<circle cx="248.9" cy="640.9" r="4.2" fill="#e2f0d9" stroke="#1e2a1e" stroke-width="1.2"/>
<circle cx="238.2" cy="661.2" r="4.2" fill="#e2f0d9" stroke="#1e2a1e" stroke-width="1.2"/>
<circle cx="248.4" cy="660.5" r="4.2" fill="#e2f0d9" stroke="#1e2a1e" stroke-width="1.2"/>
<circle cx="251.2" cy="668.8" r="4.2" fill="#e2f0d9" stroke="#1e2a1e" stroke-width="1.2"/>
<circle cx="210.5" cy="673.1" r="4.2" fill="#e2f0d9" stroke="#1e2a1e" stroke-width="1.2"/>
<circle cx="215.6" cy="671.4" r="4.2" fill="#e2f0d9" stroke="#1e2a1e" stroke-width="1.2"/>
<circle cx="222.9" cy="674.5" r="4.2" fill="#e2f0d9" stroke="#1e2a1e" stroke-width="1.2"/>
<circle cx="233.1" cy="690.6" r="4.2" fill="#e2f0d9" stroke="#1e2a1e" stroke-width="1.2"/>
<circle cx="241.6" cy="692.3" r="4.2" fill="#e2f0d9" stroke="#1e2a1e" stroke-width="1.2"/>
<circle cx="238.8" cy="695.7" r="4.2" fill="#e2f0d9" stroke="#1e2a1e" stroke-width="1.2"/>
<circle cx="264.3" cy="639.8" r="4.2" fill="#e2f0d9" stroke="#1e2a1e" stroke-width="1.2"/>
<circle cx="272.2" cy="670.1" r="4.2" fill="#e2f0d9" stroke="#1e2a1e" stroke-width="1.2"/>
<circle cx="234.05" cy="613.9" r="4.2" fill="#e2f0d9" stroke="#1e2a1e" stroke-width="1.2"/>
<circle cx="115" cy="732.1" r="4.2" fill="#55933a" stroke="#0f1f0a" stroke-width="1.2"/>
<circle cx="126.6" cy="735.8" r="4.2" fill="#55933a" stroke="#0f1f0a" stroke-width="1.2"/>
<circle cx="116.4" cy="741.2" r="4.2" fill="#55933a" stroke="#0f1f0a" stroke-width="1.2"/>
<circle cx="118.1" cy="744.3" r="4.2" fill="#55933a" stroke="#0f1f0a" stroke-width="1.2"/>
<circle cx="108.5" cy="745.4" r="4.2" fill="#55933a" stroke="#0f1f0a" stroke-width="1.2"/>
<circle cx="122.6" cy="748.2" r="4.2" fill="#55933a" stroke="#0f1f0a" stroke-width="1.2"/>
<circle cx="131.6" cy="718.8" r="4.2" fill="#55933a" stroke="#0f1f0a" stroke-width="1.2"/>
<circle cx="109.9" cy="728.5" r="4.2" fill="#55933a" stroke="#0f1f0a" stroke-width="1.2"/>
<circle cx="122.9" cy="729.9" r="4.2" fill="#55933a" stroke="#0f1f0a" stroke-width="1.2"/>
<circle cx="112.1" cy="736.4" r="4.2" fill="#55933a" stroke="#0f1f0a" stroke-width="1.2"/>
<circle cx="120.1" cy="736.7" r="4.2" fill="#55933a" stroke="#0f1f0a" stroke-width="1.2"/>
<circle cx="125.1" cy="742.6" r="4.2" fill="#55933a" stroke="#0f1f0a" stroke-width="1.2"/>
<circle cx="108.5" cy="750" r="4.2" fill="#55933a" stroke="#0f1f0a" stroke-width="1.2"/>
<circle cx="116.4" cy="750.2" r="4.2" fill="#55933a" stroke="#0f1f0a" stroke-width="1.2"/>
<circle cx="132.5" cy="732.1" r="4.2" fill="#55933a" stroke="#0f1f0a" stroke-width="1.2"/>
<circle cx="134.6" cy="725.6" r="4.2" fill="#55933a" stroke="#0f1f0a" stroke-width="1.2"/>
<circle cx="135.4" cy="719.7" r="4.2" fill="#55933a" stroke="#0f1f0a" stroke-width="1.2"/>
<circle cx="102.9" cy="760.5" r="4.2" fill="#55933a" stroke="#0f1f0a" stroke-width="1.2"/>
<circle cx="134.3" cy="703.4" r="4.2" fill="#55933a" stroke="#0f1f0a" stroke-width="1.2"/>
<circle cx="212.7" cy="677.9" r="4.2" fill="#55933a" stroke="#0f1f0a" stroke-width="1.2"/>
<text x="59.8" y="794.3" font-size="16" text-anchor="middle" font-weight="normal" fill="#1a1a1a" transform="rotate(-90 59.8 794.3)" stroke="#1a1a1a" stroke-width="0.3">0</text>
<text x="59.8" y="746.54" font-size="16" text-anchor="middle" font-weight="normal" fill="#1a1a1a" transform="rotate(-90 59.8 746.54)" stroke="#1a1a1a" stroke-width="0.3">500</text>
<text x="59.8" y="698.78" font-size="16" text-anchor="middle" font-weight="normal" fill="#1a1a1a" transform="rotate(-90 59.8 698.78)" stroke="#1a1a1a" stroke-width="0.3">1000</text>
<text x="59.8" y="651.02" font-size="16" text-anchor="middle" font-weight="normal" fill="#1a1a1a" transform="rotate(-90 59.8 651.02)" stroke="#1a1a1a" stroke-width="0.3">1500</text>
<text x="59.8" y="603.26" font-size="16" text-anchor="middle" font-weight="normal" fill="#1a1a1a" transform="rotate(-90 59.8 603.26)" stroke="#1a1a1a" stroke-width="0.3">2000</text>
<text x="59.8" y="555.5" font-size="16" text-anchor="middle" font-weight="normal" fill="#1a1a1a" transform="rotate(-90 59.8 555.5)" stroke="#1a1a1a" stroke-width="0.3">2500</text>
<text x="76.5" y="819.0" font-size="16" text-anchor="middle" font-weight="normal" fill="#1a1a1a" stroke="#1a1a1a" stroke-width="0.3">0</text>
<text x="142.5" y="819.0" font-size="16" text-anchor="middle" font-weight="normal" fill="#1a1a1a" stroke="#1a1a1a" stroke-width="0.3">2500</text>
<text x="208.5" y="819.0" font-size="16" text-anchor="middle" font-weight="normal" fill="#1a1a1a" stroke="#1a1a1a" stroke-width="0.3">5000</text>
<text x="274.5" y="819.0" font-size="16" text-anchor="middle" font-weight="normal" fill="#1a1a1a" stroke="#1a1a1a" stroke-width="0.3">7500</text>
<text x="340.5" y="819.0" font-size="16" text-anchor="middle" font-weight="normal" fill="#1a1a1a" stroke="#1a1a1a" stroke-width="0.3">10000</text>
<text x="208.5" y="839.9" font-size="15.8" text-anchor="middle" font-weight="normal" fill="#1a1a1a" stroke="#1a1a1a" stroke-width="0.3">Green integral intensity</text>
<text x="21.2" y="675.2" font-size="15.8" text-anchor="middle" font-weight="normal" fill="#1a1a1a" transform="rotate(-90 21.2 675.2)" stroke="#1a1a1a" stroke-width="0.3">Red integral intensity</text>
<text x="88.6" y="587.0" font-size="25" text-anchor="start" font-weight="bold" fill="#000">e</text>
<circle cx="255.6" cy="745.8" r="4.45" fill="#a6a6a6"/>
<circle cx="255.6" cy="762.6" r="4.2" fill="#e2f0d9" stroke="#1e2a1e" stroke-width="1.2"/>
<circle cx="255.6" cy="779.3" r="4.2" fill="#55933a" stroke="#0f1f0a" stroke-width="1.2"/>
<text x="262.3" y="750.5" font-size="13.3" text-anchor="start" font-weight="normal" fill="#1a1a1a" stroke="#1a1a1a" stroke-width="0.3">All</text>
<text x="262.3" y="766.9" font-size="13.3" text-anchor="start" font-weight="normal" fill="#1a1a1a" stroke="#1a1a1a" stroke-width="0.3">High GFP</text>
<text x="262.3" y="783.3" font-size="13.3" text-anchor="start" font-weight="normal" fill="#1a1a1a" stroke="#1a1a1a" stroke-width="0.3">Low GFP</text>
<line x1="184.4" y1="652.4" x2="201.49" y2="668.14" stroke="#ff2020" stroke-width="1.0"/>
<polygon points="205.9,672.2 198.95,670.15 203.29,665.44" fill="#ff2020"/>
<line x1="423.6" y1="795.6" x2="687.4" y2="795.6" stroke="#c4c4c4" stroke-width="1.2"/>
<polyline points="423.6,795.6 423.6,556.1 687.4,556.1 687.4,795.6" fill="none" stroke="#111" stroke-width="1.3"/>
<circle cx="523.7" cy="560.7" r="4.2" fill="#e2f0d9" stroke="#1e2a1e" stroke-width="1.2"/>
<circle cx="513" cy="565.8" r="4.2" fill="#e2f0d9" stroke="#1e2a1e" stroke-width="1.2"/>
<circle cx="518.3" cy="565.8" r="4.2" fill="#e2f0d9" stroke="#1e2a1e" stroke-width="1.2"/>
<circle cx="500.7" cy="589.4" r="4.2" fill="#e2f0d9" stroke="#1e2a1e" stroke-width="1.2"/>
<circle cx="505.4" cy="589.4" r="4.2" fill="#e2f0d9" stroke="#1e2a1e" stroke-width="1.2"/>
<circle cx="486.6" cy="608.9" r="4.2" fill="#e2f0d9" stroke="#1e2a1e" stroke-width="1.2"/>
<circle cx="495.5" cy="608.9" r="4.2" fill="#e2f0d9" stroke="#1e2a1e" stroke-width="1.2"/>
<circle cx="454.7" cy="740.9" r="4.2" fill="#55933a" stroke="#0f1f0a" stroke-width="1.2"/>
<circle cx="449.9" cy="740.5" r="4.2" fill="#55933a" stroke="#0f1f0a" stroke-width="1.2"/>
<circle cx="463.5" cy="734.5" r="4.2" fill="#55933a" stroke="#0f1f0a" stroke-width="1.2"/>
<circle cx="467.5" cy="723.7" r="4.2" fill="#55933a" stroke="#0f1f0a" stroke-width="1.2"/>
<circle cx="472" cy="728.8" r="4.2" fill="#55933a" stroke="#0f1f0a" stroke-width="1.2"/>
<circle cx="481.6" cy="733" r="4.2" fill="#55933a" stroke="#0f1f0a" stroke-width="1.2"/>
<circle cx="485.8" cy="719.4" r="4.2" fill="#55933a" stroke="#0f1f0a" stroke-width="1.2"/>
<circle cx="498.8" cy="711.3" r="4.2" fill="#55933a" stroke="#0f1f0a" stroke-width="1.2"/>
<circle cx="507.6" cy="714.1" r="4.2" fill="#55933a" stroke="#0f1f0a" stroke-width="1.2"/>
<circle cx="627.0" cy="618.4" r="4.2" fill="#55933a" stroke="#0f1f0a" stroke-width="1.2"/>
<text x="407.3" y="795.6" font-size="16" text-anchor="middle" font-weight="normal" fill="#1a1a1a" transform="rotate(-90 407.3 795.6)" stroke="#1a1a1a" stroke-width="0.3">0</text>
<text x="407.3" y="747.7" font-size="16" text-anchor="middle" font-weight="normal" fill="#1a1a1a" transform="rotate(-90 407.3 747.7)" stroke="#1a1a1a" stroke-width="0.3">10</text>
<text x="407.3" y="699.8" font-size="16" text-anchor="middle" font-weight="normal" fill="#1a1a1a" transform="rotate(-90 407.3 699.8)" stroke="#1a1a1a" stroke-width="0.3">20</text>
<text x="407.3" y="651.9000000000001" font-size="16" text-anchor="middle" font-weight="normal" fill="#1a1a1a" transform="rotate(-90 407.3 651.9000000000001)" stroke="#1a1a1a" stroke-width="0.3">30</text>
<text x="407.3" y="604.0" font-size="16" text-anchor="middle" font-weight="normal" fill="#1a1a1a" transform="rotate(-90 407.3 604.0)" stroke="#1a1a1a" stroke-width="0.3">40</text>
<text x="407.3" y="556.1" font-size="16" text-anchor="middle" font-weight="normal" fill="#1a1a1a" transform="rotate(-90 407.3 556.1)" stroke="#1a1a1a" stroke-width="0.3">50</text>
<text x="423.6" y="818.8" font-size="16" text-anchor="middle" font-weight="normal" fill="#1a1a1a" stroke="#1a1a1a" stroke-width="0.3">10</text>
<text x="511.5333333333333" y="818.8" font-size="16" text-anchor="middle" font-weight="normal" fill="#1a1a1a" stroke="#1a1a1a" stroke-width="0.3">30</text>
<text x="599.4666666666667" y="818.8" font-size="16" text-anchor="middle" font-weight="normal" fill="#1a1a1a" stroke="#1a1a1a" stroke-width="0.3">50</text>
<text x="687.4" y="818.8" font-size="16" text-anchor="middle" font-weight="normal" fill="#1a1a1a" stroke="#1a1a1a" stroke-width="0.3">70</text>
<text x="560.8" y="840.1" font-size="15.8" text-anchor="middle" font-weight="normal" fill="#1a1a1a" stroke="#1a1a1a" stroke-width="0.3">Maximuim RGB Score</text>
<text x="386.4" y="675.8" font-size="15.8" text-anchor="middle" font-weight="normal" fill="#1a1a1a" transform="rotate(-90 386.4 675.8)" stroke="#1a1a1a" stroke-width="0.3">Average RGB score</text>
<text x="433.5" y="584.0" font-size="25" text-anchor="start" font-weight="bold" fill="#000">f</text>
<text x="678.0" y="670.9" font-size="14.2" text-anchor="end" font-weight="normal" fill="#1a1a1a" stroke="#1a1a1a" stroke-width="0.3">Wilcoxon</text>
<text x="678.0" y="689.85" font-size="14.2" text-anchor="end" font-weight="normal" fill="#1a1a1a" stroke="#1a1a1a" stroke-width="0.3">rank-sum tests:</text>
<text x="678.0" y="708.8" font-size="14.2" text-anchor="end" font-weight="normal" fill="#1a1a1a" stroke="#1a1a1a" stroke-width="0.3">W=160</text>
<text x="678.0" y="727.75" font-size="14.2" text-anchor="end" font-weight="normal" fill="#1a1a1a" stroke="#1a1a1a" stroke-width="0.3">P&lt;0.001</text>
<circle cx="616.1" cy="755.2" r="4.2" fill="#55933a" stroke="#0f1f0a" stroke-width="1.2"/>
<circle cx="616.1" cy="775.3" r="4.2" fill="#e2f0d9" stroke="#1e2a1e" stroke-width="1.2"/>
<text x="622.4" y="759.8" font-size="13.3" text-anchor="start" font-weight="normal" fill="#1a1a1a" stroke="#1a1a1a" stroke-width="0.3">Low GFP</text>
<text x="622.4" y="779.5" font-size="13.3" text-anchor="start" font-weight="normal" fill="#1a1a1a" stroke="#1a1a1a" stroke-width="0.3">High GFP</text>
<line x1="600.6" y1="594.9" x2="616.33" y2="609.87" stroke="#ff2020" stroke-width="1.0"/>
<polygon points="621.4,614.7 613.62,611.99 618.31,607.07" fill="#ff2020"/>
</svg></body></html>
